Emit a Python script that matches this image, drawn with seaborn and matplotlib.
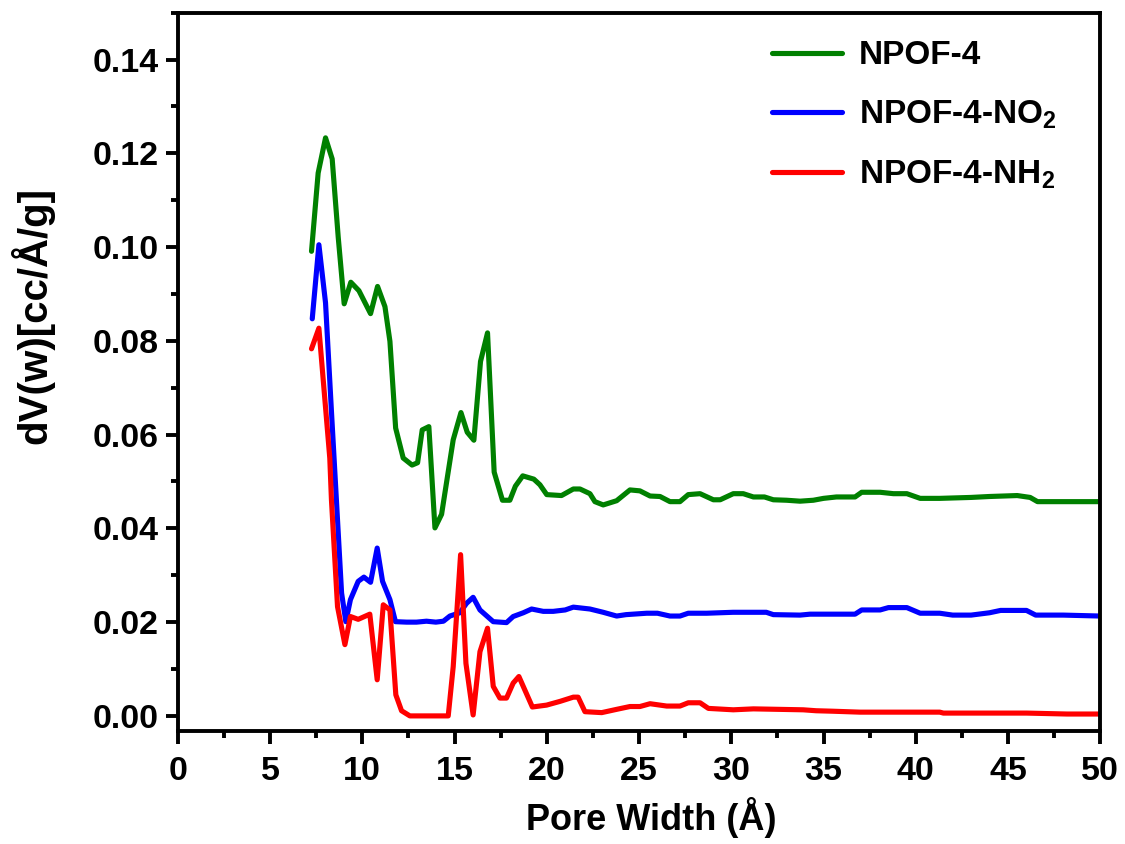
import numpy as np
import pandas as pd
import matplotlib
matplotlib.use('Agg')
import matplotlib.pyplot as plt
import seaborn as sns
from matplotlib.ticker import MultipleLocator

# pore width (A) and dV(w) values
x_npof4 = [7.25, 7.61, 8.01, 8.37, 8.7, 9.02, 9.38, 9.82, 10.45, 10.83, 11.23, 11.50, 11.81,
           12.22, 12.7, 13.0, 13.25, 13.61, 13.94, 14.3, 14.93, 15.35, 15.69, 16.05, 16.41,
           16.79, 17.15, 17.6, 18.0, 18.3, 18.7, 19.3, 19.63, 20.0, 20.8, 21.44, 21.8, 22.34,
           22.61, 23.06, 23.79, 24.51, 25.05, 25.6, 26.14, 26.68, 27.22, 27.67, 28.31, 29.03,
           29.4, 30.11, 30.65, 31.2, 31.8, 32.28, 33.0, 33.73, 34.45, 35.0, 35.7, 36.71, 37.07,
           38.07, 38.79, 39.52, 40.24, 41.3, 43.0, 44.0, 45.5, 46.2, 46.6, 48.0, 50.0]
y_npof4 = [0.0991, 0.1158, 0.1233, 0.1188, 0.1020, 0.0879, 0.0925, 0.0907, 0.0858, 0.0916,
           0.0873, 0.0799, 0.0614, 0.0550, 0.0535, 0.0540, 0.0610, 0.0617, 0.0401, 0.0430,
           0.0589, 0.0647, 0.0605, 0.0588, 0.0756, 0.0817, 0.0520, 0.0460, 0.0460, 0.0490,
           0.0512, 0.0505, 0.0493, 0.0472, 0.0470, 0.0484, 0.0484, 0.0474, 0.0457, 0.0450,
           0.0459, 0.0482, 0.0480, 0.0469, 0.0468, 0.0457, 0.0457, 0.0472, 0.0474, 0.0461,
           0.0461, 0.0474, 0.0474, 0.0467, 0.0467, 0.0461, 0.0460, 0.0458, 0.0460, 0.0464,
           0.0467, 0.0467, 0.0477, 0.0477, 0.0474, 0.0474, 0.0464, 0.0464, 0.0466, 0.0468,
           0.0470, 0.0466, 0.0457, 0.0457, 0.0457]

x_no2 = [7.29, 7.65, 8.01, 8.33, 8.6, 8.88, 9.11, 9.36, 9.78, 10.09, 10.45, 10.81, 11.1, 11.5,
         11.8, 12.4, 12.94, 13.48, 13.99, 14.4, 14.75, 15.29, 15.65, 16.01, 16.38, 17.1,
         17.82, 18.18, 18.73, 19.18, 19.81, 20.35, 21.0, 21.44, 22.34, 23.06, 23.79, 24.3,
         25.42, 26.0, 26.68, 27.22, 27.67, 28.67, 30.1, 31.9, 32.28, 33.73, 34.27, 36.71,
         37.07, 38.07, 38.52, 39.52, 40.24, 41.3, 42.0, 43.0, 44.0, 44.6, 46.0, 46.5, 48.0, 50.0]
y_no2 = [0.0847, 0.1005, 0.0881, 0.0650, 0.0460, 0.0262, 0.0201, 0.0248, 0.0287, 0.0296,
         0.0285, 0.0358, 0.0287, 0.0248, 0.0201, 0.0200, 0.0200, 0.0202, 0.0200, 0.0202,
         0.0213, 0.0220, 0.0240, 0.0253, 0.0226, 0.0201, 0.0199, 0.0212, 0.0220, 0.0228,
         0.0223, 0.0223, 0.0226, 0.0232, 0.0228, 0.0221, 0.0213, 0.0216, 0.0219, 0.0219,
         0.0213, 0.0213, 0.0219, 0.0219, 0.0221, 0.0221, 0.0216, 0.0215, 0.0217, 0.0217,
         0.0226, 0.0226, 0.0231, 0.0231, 0.0219, 0.0219, 0.0215, 0.0215, 0.0220, 0.0225,
         0.0225, 0.0215, 0.0215, 0.0213]

x_nh2 = [7.25, 7.65, 8.24, 8.33, 8.66, 9.06, 9.36, 9.78, 10.41, 10.81, 11.14, 11.5, 11.82,
         12.13, 12.58, 14.66, 14.93, 15.33, 15.62, 16.01, 16.38, 16.79, 17.1, 17.46, 17.82,
         18.18, 18.49, 19.22, 19.99, 20.72, 21.44, 21.7, 22.07, 22.98, 23.79, 24.51, 25.05,
         25.6, 26.5, 27.22, 27.67, 28.31, 28.76, 30.11, 31.2, 33.9, 34.6, 35.5, 36.98, 41.3,
         41.5, 46.0, 48.2, 50.0]
y_nh2 = [0.0783, 0.0827, 0.0550, 0.0461, 0.0233, 0.0152, 0.0212, 0.0206, 0.0217, 0.0077,
         0.0237, 0.0226, 0.0045, 0.0011, 0.0000, 0.0000, 0.0105, 0.0344, 0.0112, 0.0002,
         0.0137, 0.0187, 0.0063, 0.0038, 0.0038, 0.0070, 0.0084, 0.0019, 0.0023, 0.0031,
         0.0040, 0.0040, 0.0009, 0.0007, 0.0014, 0.0020, 0.0020, 0.0026, 0.0021, 0.0021,
         0.0028, 0.0028, 0.0016, 0.0013, 0.0015, 0.0013, 0.0011, 0.0010, 0.0008, 0.0008,
         0.0006, 0.0006, 0.0004, 0.0004]

labels = ['NPOF-4', r'NPOF-4-NO$_\mathbf{2}$', r'NPOF-4-NH$_\mathbf{2}$']
colors = ['#008000', '#0000ff', '#ff0000']

df = pd.concat([
    pd.DataFrame({'w': x_npof4, 'dv': y_npof4, 'sample': labels[0]}),
    pd.DataFrame({'w': x_no2, 'dv': y_no2, 'sample': labels[1]}),
    pd.DataFrame({'w': x_nh2, 'dv': y_nh2, 'sample': labels[2]}),
])

sns.set_style('ticks')
plt.rcParams['font.family'] = ['Liberation Sans', 'DejaVu Sans']
plt.rcParams['font.weight'] = 'bold'
plt.rcParams['axes.labelweight'] = 'bold'
plt.rcParams['mathtext.fontset'] = 'custom'
plt.rcParams['mathtext.bf'] = 'Liberation Sans:bold'
plt.rcParams['mathtext.rm'] = 'Liberation Sans:bold'
for k in ['text.color', 'axes.labelcolor', 'xtick.color', 'ytick.color', 'axes.edgecolor']:
    plt.rcParams[k] = 'black'

fig = plt.figure(figsize=(11.25, 8.44), dpi=100)
ax = fig.add_axes([0.158, 0.134, 0.820, 0.851])

sns.lineplot(data=df, x='w', y='dv', hue='sample', palette=colors, sort=False,
             linewidth=3.7, ax=ax, estimator=None)

ax.set_xlim(0, 50)
ax.set_ylim(-0.0032, 0.15)
ax.xaxis.set_major_locator(MultipleLocator(5))
ax.xaxis.set_minor_locator(MultipleLocator(2.5))
ax.yaxis.set_minor_locator(MultipleLocator(0.01))
ax.set_yticks(np.arange(0, 0.141, 0.02))
ax.set_yticklabels(['%.2f' % v for v in np.arange(0, 0.141, 0.02)])

ax.tick_params(which='major', direction='out', length=9, width=2.8, labelsize=24.5, pad=5)
ax.tick_params(axis='x', which='major', pad=9)
ax.tick_params(which='minor', direction='out', length=5, width=2.8)
for s in ax.spines.values():
    s.set_linewidth(2.8)
    s.set_visible(True)

ax.set_xlabel('Pore Width (Å)', fontsize=26, fontweight='bold')
ax.set_ylabel('dV(w)[cc/Å/g]', fontsize=29, fontweight='bold')
ax.xaxis.set_label_coords(0.513, -0.092)
ax.yaxis.set_label_coords(-0.134, 0.578)

leg = ax.legend(loc='upper left', frameon=False, fontsize=24, handlelength=2.1,
                handletextpad=0.5, labelspacing=0.82, borderaxespad=0,
                bbox_to_anchor=(0.63, 0.98))
for line in leg.get_lines():
    line.set_linewidth(3.7)

fig.savefig('out.png', dpi=100)
